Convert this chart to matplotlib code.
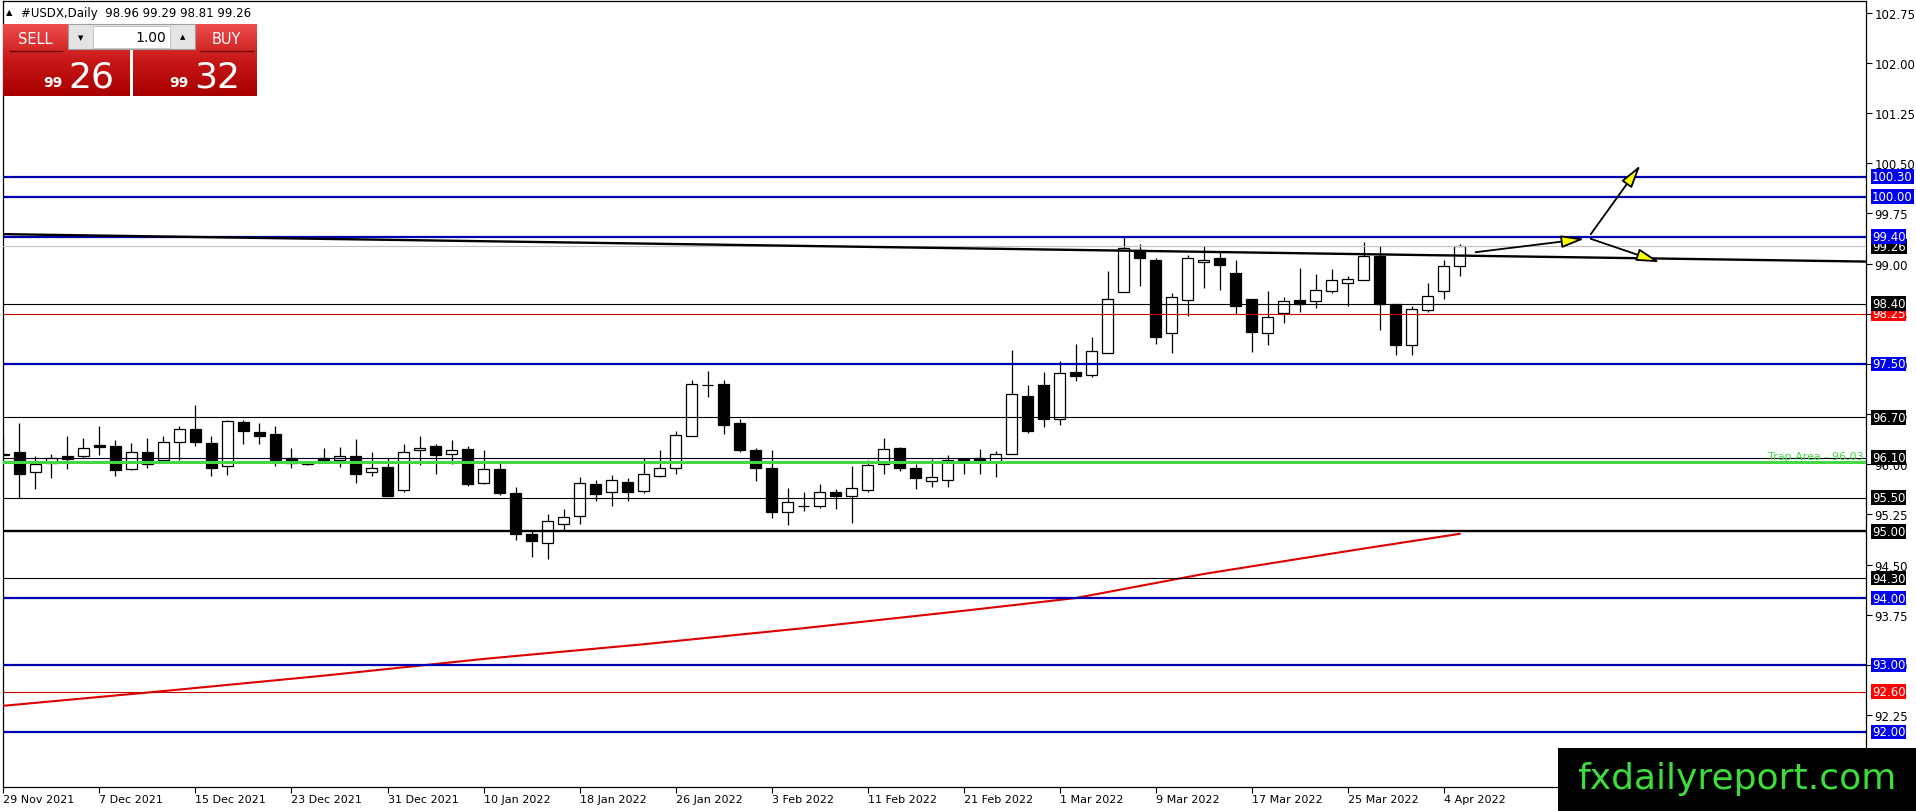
import numpy as np
import matplotlib.pyplot as plt
from matplotlib.colors import LinearSegmentedColormap
from matplotlib.patches import Rectangle
from matplotlib.transforms import blended_transform_factory

# USDX daily candles, 29 Nov 2021 .. 5 Apr 2022
opens = [96.16, 96.18, 95.88, 96.02, 96.12, 96.13, 96.29, 96.27, 95.93, 96.18,
         96.06, 96.34, 96.53, 96.32, 95.97, 96.63, 96.48, 96.45, 96.09, 96.02,
         96.10, 96.07, 96.12, 95.88, 95.96, 95.62, 96.21, 96.28, 96.16, 96.23,
         95.72, 95.93, 95.57, 94.96, 94.83, 95.11, 95.22, 95.70, 95.58, 95.73,
         95.60, 95.83, 95.94, 96.42, 97.18, 97.20, 96.61, 96.22, 95.95, 95.28,
         95.38, 95.37, 95.58, 95.52, 95.62, 96.00, 96.25, 95.94, 95.75, 95.76,
         96.08, 96.10, 96.03, 96.16, 97.02, 97.19, 96.68, 97.38, 97.33, 97.67,
         98.57, 99.21, 99.05, 97.96, 98.46, 99.02, 99.09, 98.86, 98.47, 97.96,
         98.26, 98.46, 98.44, 98.59, 98.71, 98.76, 99.11, 98.39, 97.79, 98.30,
         98.59, 98.96]
highs = [96.42, 96.62, 96.12, 96.15, 96.42, 96.40, 96.57, 96.36, 96.32, 96.40,
         96.42, 96.57, 96.88, 96.42, 96.66, 96.66, 96.62, 96.57, 96.25, 96.04,
         96.24, 96.26, 96.38, 96.19, 96.09, 96.30, 96.43, 96.30, 96.36, 96.27,
         96.21, 96.02, 95.66, 95.00, 95.25, 95.33, 95.81, 95.77, 95.84, 95.79,
         96.09, 96.22, 96.49, 97.26, 97.40, 97.26, 96.67, 96.25, 96.21, 95.65,
         95.58, 95.70, 95.63, 95.97, 96.07, 96.40, 96.26, 96.00, 96.08, 96.14,
         96.10, 96.23, 96.20, 97.71, 97.19, 97.38, 97.54, 97.80, 97.91, 98.89,
         99.40, 99.29, 99.08, 98.56, 99.13, 99.27, 99.17, 99.05, 98.47, 98.59,
         98.50, 98.93, 98.85, 98.92, 98.81, 99.33, 99.26, 98.39, 98.36, 98.71,
         99.05, 99.29]
lows = [96.12, 95.49, 95.63, 95.79, 95.93, 96.10, 96.14, 95.82, 95.91, 95.94,
        96.02, 96.07, 96.27, 95.82, 95.84, 96.31, 96.31, 95.98, 95.94, 95.99,
        96.02, 95.96, 95.72, 95.83, 95.52, 95.59, 95.99, 95.86, 96.01, 95.68,
        95.70, 95.54, 94.87, 94.61, 94.58, 95.02, 95.10, 95.45, 95.38, 95.45,
        95.57, 95.81, 95.85, 96.42, 97.00, 96.46, 96.19, 95.75, 95.19, 95.09,
        95.30, 95.35, 95.33, 95.12, 95.59, 95.85, 95.90, 95.63, 95.66, 95.66,
        95.85, 95.85, 95.81, 96.15, 96.47, 96.56, 96.58, 97.25, 97.31, 97.66,
        98.57, 98.67, 97.80, 97.66, 98.22, 98.64, 98.60, 98.25, 97.68, 97.79,
        98.11, 98.28, 98.34, 98.56, 98.36, 98.76, 98.00, 97.64, 97.64, 98.27,
        98.47, 98.81]
closes = [96.14, 95.86, 96.00, 96.09, 96.08, 96.25, 96.26, 95.92, 96.19, 96.01,
          96.33, 96.53, 96.33, 95.95, 96.64, 96.49, 96.43, 96.07, 96.02, 96.01,
          96.05, 96.13, 95.86, 95.95, 95.53, 96.19, 96.25, 96.14, 96.21, 95.70,
          95.93, 95.57, 94.96, 94.85, 95.15, 95.21, 95.72, 95.56, 95.76, 95.59,
          95.85, 95.95, 96.44, 97.20, 97.19, 96.59, 96.21, 95.94, 95.29, 95.43,
          95.37, 95.58, 95.52, 95.64, 95.99, 96.23, 95.94, 95.79, 95.81, 96.07,
          96.06, 96.04, 96.16, 97.05, 96.49, 96.67, 97.36, 97.32, 97.69, 98.47,
          99.23, 99.08, 97.91, 98.50, 99.09, 99.05, 98.98, 98.36, 97.98, 98.20,
          98.44, 98.40, 98.60, 98.75, 98.77, 99.11, 98.39, 97.79, 98.32, 98.52,
          98.96, 99.26]

date_pos = [0, 6, 12, 18, 24, 30, 36, 42, 48, 54, 60, 66, 72, 78, 84, 90]
date_labels = ['29 Nov 2021', '7 Dec 2021', '15 Dec 2021', '23 Dec 2021',
               '31 Dec 2021', '10 Jan 2022', '18 Jan 2022', '26 Jan 2022',
               '3 Feb 2022', '11 Feb 2022', '21 Feb 2022', '1 Mar 2022',
               '9 Mar 2022', '17 Mar 2022', '25 Mar 2022', '4 Apr 2022']

# red moving average, read at a few bars
ma_bars = [0, 10, 20, 30, 40, 50, 60, 67, 75, 85, 91]
ma_vals = [92.39, 92.61, 92.84, 93.09, 93.31, 93.55, 93.81, 94.00, 94.36, 94.74, 94.96]

# long black trendline
trend_bars = [-0.03, 116.4]
trend_vals = [99.44, 99.03]

# horizontal levels
level_prices = [100.30, 100.00, 99.40, 98.40, 98.25, 97.50, 96.70, 96.10,
                95.50, 95.00, 94.30, 94.00, 93.00, 92.60, 92.00]
level_kinds = ['blue', 'blue', 'blue', 'black', 'red', 'blue', 'black', 'black',
               'black', 'bold', 'black', 'blue', 'blue', 'red', 'blue']
trap_price = 96.03

ytick_vals = [102.75, 102.00, 101.25, 100.50, 99.75, 99.00, 98.25, 97.50,
              96.75, 96.00, 95.25, 94.50, 93.75, 93.00, 92.25]

arrow_from = [(92.0, 99.17), (99.2, 99.37), (99.2, 99.44)]
arrow_to = [(98.8, 99.37), (103.5, 99.02), (102.3, 100.47)]

bid = 99.26
ask = 99.32
lot = '1.00'

W, H = 1916, 812
fig = plt.figure(figsize=(W / 100, H / 100), dpi=100, facecolor='white')
ax = fig.add_axes([3 / W, 24 / H, 1863 / W, 786 / H])
ax.set_xlim(-0.03, 116.4)
ax.set_ylim(91.176, 102.925)

o = np.array(opens)
h = np.array(highs)
l = np.array(lows)
c = np.array(closes)
x = np.arange(len(o))
up = c >= o

ax.vlines(x, l, h, color='black', lw=0.9, zorder=4)
ax.bar(x[up], np.maximum(c - o, 0.008)[up], bottom=o[up], width=0.66,
       facecolor='white', edgecolor='black', lw=0.9, zorder=5)
ax.bar(x[~up], np.maximum(o - c, 0.008)[~up], bottom=c[~up], width=0.66,
       facecolor='black', edgecolor='black', lw=0.9, zorder=5)

ax.plot(ma_bars, ma_vals, color='#dd0000', lw=1.5, zorder=6)

styles = {'blue': ('#0000b0', 1.6, '#0000f0'),
          'black': ('black', 0.8, 'black'),
          'bold': ('black', 1.7, 'black'),
          'red': ('#d00000', 0.8, '#ff0000')}
for p, k in zip(level_prices, level_kinds):
    ax.axhline(p, color=styles[k][0], lw=styles[k][1], zorder=7)
ax.axhline(bid, color='#c0c0c0', lw=0.8, zorder=6)
ax.axhline(trap_price, color='#44d844', lw=2.2, zorder=7)
ax.plot(trend_bars, trend_vals, color='black', lw=1.7, zorder=8)

for (x0, y0), (x1, y1) in zip(arrow_from, arrow_to):
    ax.annotate('', xy=(x1, y1), xytext=(x0, y0),
                arrowprops=dict(arrowstyle='-|>,head_length=1.4,head_width=0.38',
                                fc='yellow', ec='black', lw=1.3,
                                shrinkA=0, shrinkB=0), zorder=9)

tr = blended_transform_factory(ax.transAxes, ax.transData)
ax.text(1 - 2 / 1863, trap_price + 0.015, 'Trap Area - %.2f' % trap_price,
        transform=tr, ha='right', va='bottom', color='#44d844', fontsize=8, zorder=9)

# right axis
ax.yaxis.tick_right()
ax.set_yticks(ytick_vals)
ax.yaxis.set_major_formatter('{x:.2f}')
ax.tick_params(axis='y', direction='out', length=4, width=0.8, pad=2, labelsize=8.5)
ax.set_xticks(date_pos)
ax.set_xticklabels(date_labels, ha='left')
ax.tick_params(axis='x', direction='out', length=4, width=0.8, pad=1, labelsize=8)
for s in ax.spines.values():
    s.set_linewidth(0.9)

# price boxes on the right axis, higher price drawn on top
boxes = [(p, styles[k][2]) for p, k in zip(level_prices, level_kinds)] + [(bid, 'black')]
boxes.sort()
for p, col in boxes:
    ax.text(1.0032, p, '%.2f' % p, transform=tr, ha='left', va='center',
            color='white', fontsize=8.5, clip_on=False, zorder=20,
            bbox=dict(fc=col, ec='none', pad=0.6))

# overlay: header, trade panel and watermark
ov = fig.add_axes([0, 0, 1, 1], zorder=10)
ov.axis('off')
cmap = LinearSegmentedColormap.from_list('btn', ['#ec4c4c', '#c81818', '#a80000'])
grad = np.linspace(0, 1, 64).reshape(-1, 1)
ov.imshow(grad, cmap=cmap, extent=[3, 130, 97, 25], aspect='auto', zorder=1)
ov.imshow(grad, cmap=cmap, extent=[133, 257, 97, 25], aspect='auto', zorder=1)
ov.set_xlim(0, W)
ov.set_ylim(H, 0)
ov.plot([10, 62], [52, 52], color='#7a0000', lw=1, zorder=2)
ov.plot([200, 253], [52, 52], color='#7a0000', lw=1, zorder=2)
ov.add_patch(Rectangle((68, 25), 127, 25, fc='#e4e4e4', ec='#a0a0a0', lw=0.8, zorder=3))
ov.add_patch(Rectangle((93, 26.5), 77, 22, fc='white', ec='#c0c0c0', lw=0.6, zorder=4))
ov.text(80.5, 38, '▼', fontsize=5, ha='center', va='center', zorder=5)
ov.text(182.5, 37, '▲', fontsize=5, ha='center', va='center', zorder=5)
ov.text(166, 38, lot, fontsize=10, ha='right', va='center', zorder=5)
ov.text(35, 39, 'SELL', fontsize=10.5, color='white', ha='center', va='center', zorder=5)
ov.text(226, 39, 'BUY', fontsize=10.5, color='white', ha='center', va='center', zorder=5)
b_big, b_small = ('%.2f' % bid).split('.')
a_big, a_small = ('%.2f' % ask).split('.')
ov.text(63, 87, b_big, fontsize=10, fontweight='bold', color='white',
        ha='right', va='baseline', zorder=5)
ov.text(68, 87, b_small, fontsize=26, color='white', ha='left', va='baseline', zorder=5)
ov.text(189, 87, a_big, fontsize=10, fontweight='bold', color='white',
        ha='right', va='baseline', zorder=5)
ov.text(194, 87, a_small, fontsize=26, color='white', ha='left', va='baseline', zorder=5)

ov.text(6, 13, '▲', fontsize=6, ha='left', va='center')
ov.text(21, 13, '#USDX,Daily  %.2f %.2f %.2f %.2f' % (opens[-1], highs[-1], lows[-1], closes[-1]),
        fontsize=8.5, ha='left', va='center')

ov.add_patch(Rectangle((1558, 749), 358, 63, fc='black', ec='none', zorder=6))
ov.text(1737, 779, 'fxdailyreport.com', fontsize=26, color='#3cdc3c',
        ha='center', va='center', zorder=7)

fig.savefig('out.png', dpi=100)
